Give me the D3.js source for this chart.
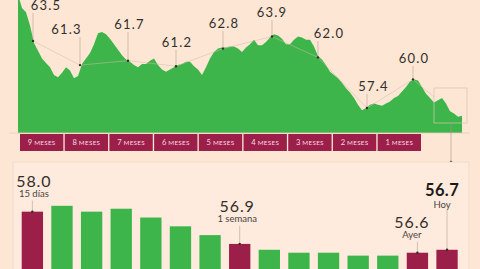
<!DOCTYPE html>
<html>
<head>
<meta charset="utf-8">
<script src="https://cdn.jsdelivr.net/npm/d3@7"></script>
<style>
body { margin: 0; background: #fde6d4; }
svg { display: block; font-family: Lato, "Open Sans", sans-serif; }
</style>
</head>
<body>
<script>
// canvas size
var width = 480;
var height = 269;

// index over the last nine months (one point every few days)
var lineValues = [
    67.7, 66.5, 66.1, 64.9, 63.3, 62.6, 61.9, 61.5, 61.1, 60.4,
    60.2, 60.6, 61.1, 60.8, 60.1, 60.3, 61.4, 61.9, 62.4, 63.2,
    64.2, 64.3, 64.1, 63.7, 63.2, 62.7, 62.2, 61.8, 61.6, 61.3,
    61.1, 61.4, 61.4, 61.7, 61.9, 61.3, 60.9, 60.7, 60.9, 61.1,
    61.3, 61.4, 61.6, 61.6, 61.2, 60.9, 60.4, 61.1, 61.9, 62.5,
    62.8, 62.9, 62.9, 63.0, 63.0, 62.8, 62.5, 62.9, 63.2, 63.6,
    63.1, 63.1, 63.4, 63.8, 64.1, 64.0, 63.7, 63.2, 63.2, 63.6,
    63.9, 63.8, 63.6, 63.6, 63.0, 62.1, 61.8, 61.3, 60.7, 60.4,
    60.1, 59.7, 59.2, 58.8, 58.3, 57.7, 57.2, 57.4, 57.7, 57.8,
    57.7, 57.6, 57.8, 58.0, 58.3, 58.5, 58.9, 59.3, 59.8, 60.0,
    59.9, 59.3, 58.7, 58.3, 57.9, 58.1, 58.3, 57.8, 57.1, 56.9,
    56.6, 56.7
];

// month boxes under the line
var monthLabels = ["9 MESES", "8 MESES", "7 MESES", "6 MESES", "5 MESES",
                   "4 MESES", "3 MESES", "2 MESES", "1 MESES"];

// marked points on the line (position in lineValues and value)
var markIndex = [3.75, 15.5, 27.5, 39.5, 51.25, 63.5, 75, 87.25, 98.75];
var markValues = [63.5, 61.3, 61.7, 61.2, 62.8, 63.9, 62.0, 57.4, 60.0];

// last fifteen days
var dayValues = [58.0, 58.2, 58.0, 58.1, 57.8, 57.5, 57.2, 56.9,
                 56.7, 56.6, 56.6, 56.5, 56.5, 56.6, 56.7];
var noteIndex = [0, 7, 13, 14];
var noteTexts = ["15 días", "1 semana", "Ayer", "Hoy"];

// colours
var green = "#3db54a";
var maroon = "#9c1f4a";
var ink = "#332e2b";

window.onload = function() {

    var svg = d3.select("body")
                .append("svg")
                .attr("width", width)
                .attr("height", height);

    drawLine(svg);
    drawMonths(svg);
    drawDays(svg);
};

// nine month area with its marked points
function drawLine(svg) {

    var baseY = 133;

    var x = d3.scaleLinear()
              .domain([0, lineValues.length - 1])
              .range([18, 462]);

    var y = d3.scaleLinear()
              .domain([55, 67])
              .range([134.4, 2.4]);

    var area = d3.area()
                 .x(function(d, i) { return x(i); })
                 .y0(baseY)
                 .y1(function(d) { return y(d); });

    svg.append("path")
       .datum(lineValues)
       .attr("d", area)
       .attr("fill", green);

    // thin base line
    svg.append("line")
       .attr("x1", 9).attr("x2", 470)
       .attr("y1", baseY).attr("y2", baseY)
       .attr("stroke", "#e6cbbb")
       .attr("stroke-width", 0.8);

    // points for the marks
    var marks = markIndex.map(function(d, i) {
        return { x: x(d), y: y(markValues[i]), v: markValues[i] };
    });

    // box round the last days
    var box = { x0: 434, x1: 467, y0: 88, y1: 123 };

    // thin line joining the marks, then on to the box
    var joinPts = marks.map(function(d) { return [d.x, d.y]; });
    joinPts.push([box.x0, 97]);
    svg.append("path")
       .attr("d", d3.line()(joinPts))
       .attr("fill", "none")
       .attr("stroke", "#d2bbac")
       .attr("stroke-width", 0.5);

    svg.append("rect")
       .attr("x", box.x0).attr("y", box.y0)
       .attr("width", box.x1 - box.x0).attr("height", box.y1 - box.y0)
       .attr("fill", "none")
       .attr("stroke", "#d9c2b3")
       .attr("stroke-width", 0.7);

    svg.append("line")
       .attr("x1", 451).attr("x2", 451)
       .attr("y1", box.y1).attr("y2", 162)
       .attr("stroke", "#a99486")
       .attr("stroke-width", 0.6);

    svg.append("circle")
       .attr("cx", 451).attr("cy", 162).attr("r", 1.3)
       .attr("fill", ink);

    // label placing: shift from the point and text baseline
    var labelDx = [13, -13.5, 1.5, 1, 1, 0, 11, 6.5, 1];
    var labelY = [10, 34, 29, 47, 28, 17, 38, 91, 63];

    var g = svg.selectAll(".mark")
               .data(marks)
               .enter().append("g")
               .attr("class", "mark");

    g.append("line")
     .attr("x1", function(d) { return d.x; })
     .attr("x2", function(d) { return d.x; })
     .attr("y1", function(d, i) { return labelY[i] + 3; })
     .attr("y2", function(d) { return d.y; })
     .attr("stroke", "#a89385")
     .attr("stroke-width", 0.5);

    g.append("circle")
     .attr("cx", function(d) { return d.x; })
     .attr("cy", function(d) { return d.y; })
     .attr("r", 1.2)
     .attr("fill", ink);

    g.append("text")
     .attr("x", function(d, i) { return d.x + labelDx[i]; })
     .attr("y", function(d, i) { return labelY[i]; })
     .attr("text-anchor", "middle")
     .attr("fill", ink)
     .style("font-size", "13px")
     .style("letter-spacing", "1.2px")
     .text(function(d) { return d.v.toFixed(1); });
}

// maroon month boxes
function drawMonths(svg) {

    var x = d3.scaleBand()
              .domain(monthLabels)
              .range([20, 421])
              .paddingInner(0.03);

    var g = svg.selectAll(".month")
               .data(monthLabels)
               .enter().append("g")
               .attr("class", "month");

    g.append("rect")
     .attr("x", function(d) { return x(d); })
     .attr("y", 134)
     .attr("width", x.bandwidth())
     .attr("height", 17)
     .attr("fill", maroon);

    var t = g.append("text")
             .attr("x", function(d) { return x(d) + x.bandwidth() / 2; })
             .attr("y", 145.3)
             .attr("text-anchor", "middle")
             .attr("fill", "#f6dbe2");

    t.append("tspan")
     .style("font-size", "7.6px")
     .text(function(d) { return d.split(" ")[0] + " "; });

    t.append("tspan")
     .style("font-size", "6.3px")
     .style("letter-spacing", "0.3px")
     .text(function(d) { return d.split(" ")[1]; });
}

// bars for the last fifteen days
function drawDays(svg) {

    // lighter panel
    svg.append("rect")
       .attr("x", 13).attr("y", 162)
       .attr("width", 456).attr("height", 120)
       .attr("fill", "#feebdd")
       .attr("stroke", "#f0d6c5")
       .attr("stroke-width", 0.8);

    var x = d3.scaleBand()
              .domain(d3.range(dayValues.length))
              .range([21.7, 457.7])
              .paddingInner(0.28)
              .paddingOuter(0);

    var y = d3.scaleLinear()
              .domain([56, 58.2])
              .range([270.3, 205.8]);

    svg.selectAll(".bar")
       .data(dayValues)
       .enter().append("rect")
       .attr("class", "bar")
       .attr("x", function(d, i) { return x(i); })
       .attr("y", function(d) { return y(d); })
       .attr("width", x.bandwidth())
       .attr("height", function(d) { return height + 5 - y(d); })
       .attr("fill", function(d, i) {
           return noteIndex.indexOf(i) >= 0 ? maroon : green;
       });

    // note placing: shift of text from bar centre, value baseline, size
    var noteDx = [1.5, -2.5, -5.5, -5];
    var noteY = [186.7, 211.7, 227.7, 196];
    var noteSize = [16, 16, 16, 16.5];

    var notes = noteIndex.map(function(d, i) {
        return { cx: x(d) + x.bandwidth() / 2, top: y(dayValues[d]),
                 v: dayValues[d], text: noteTexts[i] };
    });

    var g = svg.selectAll(".note")
               .data(notes)
               .enter().append("g")
               .attr("class", "note");

    g.append("line")
     .attr("x1", function(d) { return d.cx; })
     .attr("x2", function(d) { return d.cx; })
     .attr("y1", function(d, i) { return noteY[i] + 14; })
     .attr("y2", function(d) { return d.top; })
     .attr("stroke", "#a89385")
     .attr("stroke-width", 0.5);

    g.append("circle")
     .attr("cx", function(d) { return d.cx; })
     .attr("cy", function(d) { return d.top; })
     .attr("r", 1.2)
     .attr("fill", ink);

    g.append("text")
     .attr("x", function(d, i) { return d.cx + noteDx[i]; })
     .attr("y", function(d, i) { return noteY[i]; })
     .attr("text-anchor", "middle")
     .attr("fill", function(d, i) { return i == 3 ? "#1c1a19" : ink; })
     .style("font-size", function(d, i) { return noteSize[i] + "px"; })
     .style("font-weight", function(d, i) { return i == 3 ? "bold" : "normal"; })
     .style("letter-spacing", function(d, i) { return i == 3 ? "0.4px" : "0.9px"; })
     .text(function(d) { return d.v.toFixed(1); });

    g.append("text")
     .attr("x", function(d, i) { return d.cx + noteDx[i]; })
     .attr("y", function(d, i) { return noteY[i] + (i == 3 ? 12 : 10.5); })
     .attr("text-anchor", "middle")
     .attr("fill", "#4a4441")
     .style("font-size", "9.5px")
     .text(function(d) { return d.text; });
}
</script>
</body>
</html>
